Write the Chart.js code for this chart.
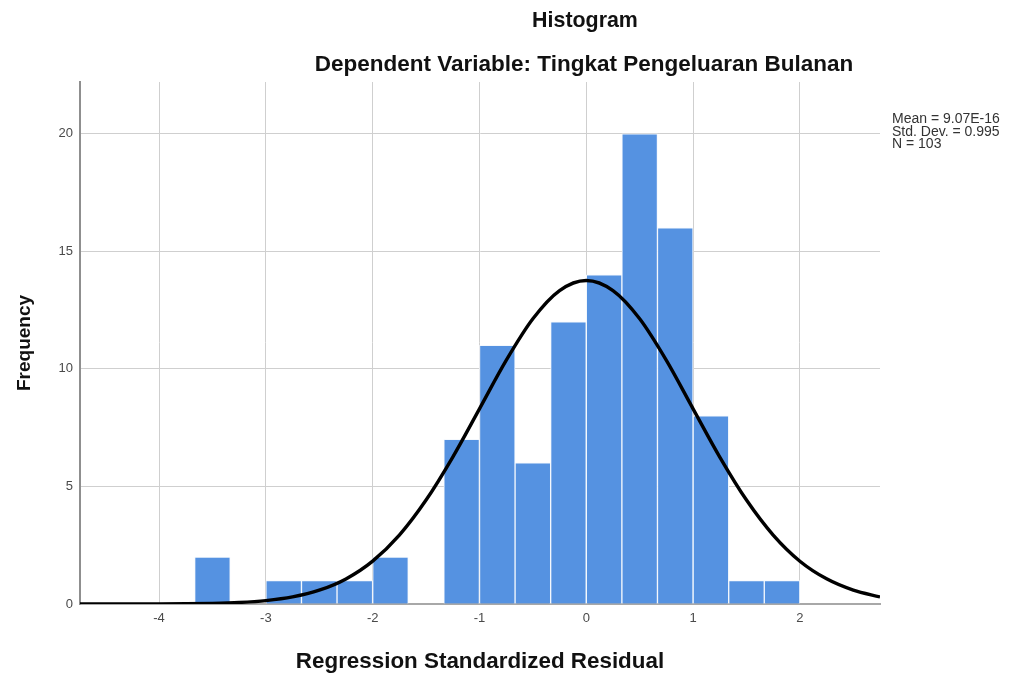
<!DOCTYPE html>
<html>
<head>
<meta charset="utf-8">
<script src="https://cdn.jsdelivr.net/npm/chart.js@4/dist/chart.umd.min.js"></script>
<style>
  html, body { margin: 0; padding: 0; background: #fff; }
  #wrap { position: relative; width: 1011px; height: 677px; }
</style>
</head>
<body>
<div id="wrap"><canvas id="histChart" width="1011" height="677"></canvas></div>
<script>
// histogram bins (width 1/3), centres and counts
const binCenters = [-4.5, -4.167, -3.833, -3.5, -3.167, -2.833, -2.5, -2.167, -1.833, -1.5, -1.167,
                    -0.833, -0.5, -0.167, 0.167, 0.5, 0.833, 1.167, 1.5, 1.833, 2.167, 2.5];
const frequencies = [0, 0, 0, 2, 0, 1, 1, 1, 2, 0, 7, 11, 6, 12, 14, 20, 16, 8, 1, 1, 0, 0];

// normal curve
const curveX = [-4.75, -4.5, -4.25, -4, -3.75, -3.5, -3.25, -3, -2.75, -2.5, -2.25, -2, -1.75, -1.5, -1.25,
                -1, -0.75, -0.5, -0.25, 0, 0.25, 0.5, 0.75, 1, 1.25, 1.5, 1.75, 2, 2.25, 2.5, 2.75];
const curveY = [0, 0.001, 0.002, 0.004, 0.011, 0.028, 0.066, 0.146, 0.302, 0.586, 1.067, 1.824, 2.93, 4.42, 6.25,
                8.30, 10.36, 12.13, 13.33, 13.76, 13.33, 12.13, 10.36, 8.30, 6.25, 4.42, 2.93, 1.82, 1.07, 0.59, 0.30];

const xTicks = [-4, -3, -2, -1, 0, 1, 2];
const yTicks = [0, 5, 10, 15, 20];

const titleText = 'Histogram';
const subtitleText = 'Dependent Variable: Tingkat Pengeluaran Bulanan';
const statsLines = ['Mean = 9.07E-16', 'Std. Dev. = 0.995', 'N = 103'];

//titles and stats box
const textPlugin = {
    id: 'spssText',
    afterDraw(chart) {
        const ctx = chart.ctx;
        ctx.save();
        ctx.fillStyle = '#111';
        ctx.textAlign = 'center';
        ctx.textBaseline = 'alphabetic';
        ctx.font = 'bold 21.4px "Liberation Sans", Arial, sans-serif';
        ctx.fillText(titleText, 585, 27);
        ctx.font = 'bold 22.5px "Liberation Sans", Arial, sans-serif';
        ctx.fillText(subtitleText, 584, 71);
        ctx.textAlign = 'left';
        ctx.fillStyle = '#333';
        ctx.font = '14px "Liberation Sans", Arial, sans-serif';
        statsLines.forEach((line, i) => ctx.fillText(line, 892, 123 + i * 12.5));
        ctx.restore();
    }
};

const ctx = document.getElementById('histChart').getContext('2d');
new Chart(ctx, {
    type: 'bar',
    data: {
        datasets: [{
            type: 'line',
            data: curveX.map((x, i) => ({x: x, y: curveY[i]})),
            borderColor: '#000',
            borderWidth: 3.4,
            pointRadius: 0,
            cubicInterpolationMode: 'monotone',
            fill: false,
            order: 0
        }, {
            type: 'bar',
            data: binCenters.map((x, i) => ({x: x, y: frequencies[i]})),
            backgroundColor: '#5592e1',
            borderColor: '#f4f8fd',
            borderWidth: 1,
            borderSkipped: 'bottom',
            categoryPercentage: 1,
            barPercentage: 1,
            order: 1
        }]
    },
    options: {
        responsive: false,
        animation: false,
        devicePixelRatio: 1,
        layout: { padding: { left: 0, right: 131, top: 82, bottom: 0 } },
        plugins: { legend: { display: false }, tooltip: { enabled: false } },
        scales: {
            x: {
                type: 'linear',
                min: -4.74,
                max: 2.75,
                offset: false,
                afterFit: s => { s.height = 73; },
                afterBuildTicks: s => { s.ticks = xTicks.map(v => ({value: v})); },
                grid: { color: '#cfcfcf', lineWidth: 1, drawTicks: false, offset: false },
                border: { color: '#a8a8a8', width: 2 },
                ticks: {
                    padding: 7,
                    color: '#4a4a4a',
                    font: { family: '"Liberation Sans", Arial, sans-serif', size: 13 }
                },
                title: {
                    display: true,
                    text: 'Regression Standardized Residual',
                    color: '#111',
                    padding: { top: 0, bottom: 2 },
                    font: { family: '"Liberation Sans", Arial, sans-serif', size: 22.4, weight: 'bold' }
                }
            },
            y: {
                min: 0,
                max: 22.2,
                afterFit: s => { s.width = 80; },
                afterBuildTicks: s => { s.ticks = yTicks.map(v => ({value: v})); },
                grid: { color: '#cfcfcf', lineWidth: 1, drawTicks: false },
                border: { color: '#8f8f8f', width: 2 },
                ticks: {
                    padding: 7,
                    color: '#4a4a4a',
                    font: { family: '"Liberation Sans", Arial, sans-serif', size: 13 }
                },
                title: {
                    display: true,
                    text: 'Frequency',
                    color: '#111',
                    padding: { top: 13, bottom: 0 },
                    font: { family: '"Liberation Sans", Arial, sans-serif', size: 19, weight: 'bold' }
                }
            }
        }
    },
    plugins: [textPlugin]
});
</script>
</body>
</html>
